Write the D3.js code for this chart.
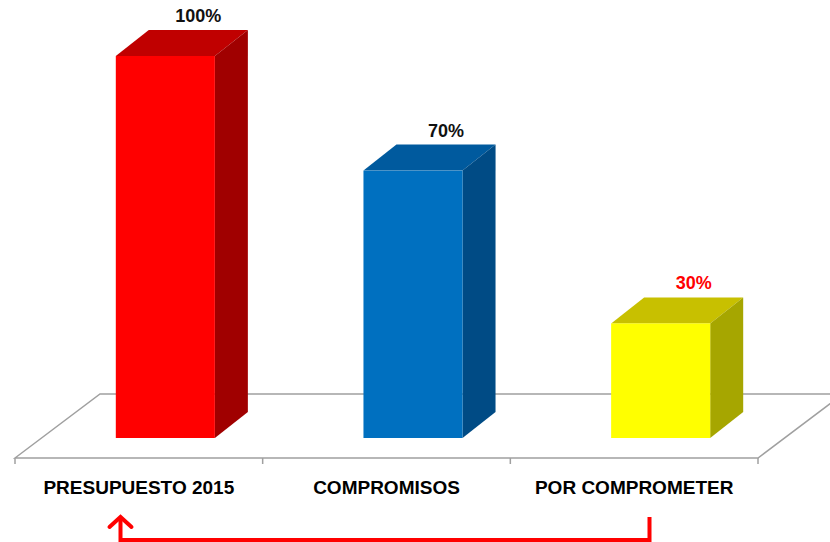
<!DOCTYPE html>
<html>
<head>
  <meta charset="utf-8">
  <script src="https://cdn.jsdelivr.net/npm/d3@7"></script>
  <style>
    body { margin: 0; background: #fff; }
    text { font-family: "Liberation Sans", Arial, sans-serif; font-weight: bold; }
  </style>
</head>
<body>
<script>
  // chart data
  var categories = ["PRESUPUESTO 2015", "COMPROMISOS", "POR COMPROMETER"];
  var values = [100, 70, 30];
  var valueLabels = ["100%", "70%", "30%"];

  // face colours per bar: front, top, side
  var frontColors = ["#ff0000", "#0070c0", "#ffff00"];
  var topColors = ["#c00000", "#005a9e", "#c8c000"];
  var sideColors = ["#a00000", "#004b85", "#a6a600"];
  var labelColors = ["#111", "#111", "#ff0000"];

  var width = 830, height = 542;

  var svg = d3.select("body").append("svg")
      .attr("width", width)
      .attr("height", height);

  /*
    scales
  */
  var x = d3.scaleBand()
      .domain(categories)
      .range([15, 758])
      .padding(0);

  var y = d3.scaleLinear()
      .domain([0, 100])
      .range([438, 56]);

  // floor depth and bar depth (oblique projection)
  var floorDx = 85, floorDy = -64, floorY = 458;
  var barDx = 33, barDy = -26;
  var shiftX = 26.5; // bars sit in the middle of the floor
  var barW = x.bandwidth() * 0.4;

  /*
    floor
  */
  var floor = svg.append("g")
      .attr("fill", "none")
      .attr("stroke", "#a0a0a0")
      .attr("stroke-width", 1.5);

  var x0 = x.range()[0], x1 = x.range()[1];
  floor.append("path")
      .attr("d", "M" + x0 + "," + floorY +
                 "L" + (x0 + floorDx) + "," + (floorY + floorDy) +
                 "L" + (x1 + floorDx) + "," + (floorY + floorDy) +
                 "L" + x1 + "," + floorY + "Z");

  // ticks below the floor front edge
  var tickXs = categories.map(function(c) { return x(c); }).concat([x1]);
  floor.selectAll("line.tick")
      .data(tickXs)
      .enter().append("line")
      .attr("class", "tick")
      .attr("x1", function(d) { return d; })
      .attr("x2", function(d) { return d; })
      .attr("y1", floorY)
      .attr("y2", floorY + 6);

  /*
    bars
  */
  var bars = svg.selectAll("g.bar")
      .data(values)
      .enter().append("g")
      .attr("class", "bar");

  function fx(i) { return x(categories[i]) + x.bandwidth() / 2 + shiftX - barW / 2; }

  // top face
  bars.append("path")
      .attr("fill", function(d, i) { return topColors[i]; })
      .attr("d", function(d, i) {
        var l = fx(i), t = y(d);
        return "M" + l + "," + t + "L" + (l + barDx) + "," + (t + barDy) +
               "L" + (l + barW + barDx) + "," + (t + barDy) + "L" + (l + barW) + "," + t + "Z";
      });

  // side face
  bars.append("path")
      .attr("fill", function(d, i) { return sideColors[i]; })
      .attr("d", function(d, i) {
        var r = fx(i) + barW, t = y(d), b = y(0);
        return "M" + r + "," + t + "L" + (r + barDx) + "," + (t + barDy) +
               "L" + (r + barDx) + "," + (b + barDy) + "L" + r + "," + b + "Z";
      });

  // front face
  bars.append("rect")
      .attr("fill", function(d, i) { return frontColors[i]; })
      .attr("x", function(d, i) { return fx(i); })
      .attr("y", function(d) { return y(d); })
      .attr("width", barW)
      .attr("height", function(d) { return y(0) - y(d); });

  // value labels
  bars.append("text")
      .attr("x", function(d, i) { return fx(i) + barW / 2 + barDx; })
      .attr("y", function(d) { return y(d) + barDy - 8; })
      .attr("text-anchor", "middle")
      .attr("font-size", "18px")
      .attr("fill", function(d, i) { return labelColors[i]; })
      .text(function(d, i) { return valueLabels[i]; });

  /*
    category labels
  */
  svg.selectAll("text.cat")
      .data(categories)
      .enter().append("text")
      .attr("class", "cat")
      .attr("x", function(d) { return x(d) + x.bandwidth() / 2; })
      .attr("y", 494)
      .attr("text-anchor", "middle")
      .attr("font-size", "19px")
      .attr("fill", "#000")
      .text(function(d) { return d; });

  /*
    red return arrow from last category back to the first
  */
  var ax0 = 120.5, ax1 = 649.5, ay = 540, atop = 517;
  svg.append("path")
      .attr("fill", "none")
      .attr("stroke", "#ff0000")
      .attr("stroke-width", 4)
      .attr("d", "M" + ax1 + "," + atop + "L" + ax1 + "," + ay + "L" + ax0 + "," + ay + "L" + ax0 + "," + (atop + 2));
  svg.append("path")
      .attr("fill", "none")
      .attr("stroke", "#ff0000")
      .attr("stroke-width", 4)
      .attr("stroke-linecap", "round")
      .attr("d", "M" + (ax0 - 11) + "," + (atop + 10) + "L" + ax0 + "," + atop + "L" + (ax0 + 11) + "," + (atop + 10));
</script>
</body>
</html>
